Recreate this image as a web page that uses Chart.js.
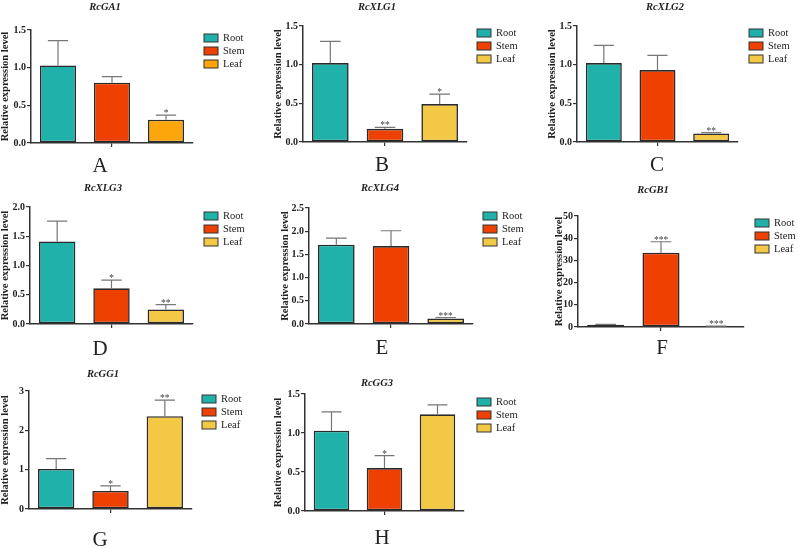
<!DOCTYPE html>
<html>
<head>
<meta charset="utf-8">
<script src="https://cdn.jsdelivr.net/npm/chart.js@4.4.1/dist/chart.umd.min.js"></script>
<style>
  html, body { margin: 0; padding: 0; background: #fff; }
  #wrap { position: relative; width: 798px; height: 548px; overflow: hidden; }
  #wrap canvas { position: absolute; left: 0; top: 0; }
</style>
</head>
<body>
<div id="wrap"></div>
<script>
// data
const tissues = ['Root', 'Stem', 'Leaf'];
const genes = ['RcGA1', 'RcXLG1', 'RcXLG2', 'RcXLG3', 'RcXLG4', 'RcGB1', 'RcGG1', 'RcGG3'];
const letters = ['A', 'B', 'C', 'D', 'E', 'F', 'G', 'H'];

const meanGA1 = [1.03, 0.80, 0.31];   const sdGA1 = [0.33, 0.08, 0.06];  const sigGA1 = ['', '', '*'];
const meanXLG1 = [1.02, 0.17, 0.49];  const sdXLG1 = [0.28, 0.02, 0.13]; const sigXLG1 = ['', '**', '*'];
const meanXLG2 = [1.02, 0.93, 0.11];  const sdXLG2 = [0.23, 0.19, 0.01]; const sigXLG2 = ['', '', '**'];
const meanXLG3 = [1.41, 0.61, 0.25];  const sdXLG3 = [0.35, 0.14, 0.08]; const sigXLG3 = ['', '*', '**'];
const meanXLG4 = [1.71, 1.68, 0.12];  const sdXLG4 = [0.14, 0.33, 0.02]; const sigXLG4 = ['', '', '***'];
const meanGB1 = [1.0, 33.5, 0.3];     const sdGB1 = [0.2, 4.9, 0.05];    const sigGB1 = ['', '***', '***'];
const meanGG1 = [1.02, 0.46, 2.36];   const sdGG1 = [0.26, 0.13, 0.41];  const sigGG1 = ['', '*', '**'];
const meanGG3 = [1.03, 0.55, 1.24];   const sdGG3 = [0.24, 0.16, 0.12];  const sigGG3 = ['', '*', ''];

const means = [meanGA1, meanXLG1, meanXLG2, meanXLG3, meanXLG4, meanGB1, meanGG1, meanGG3];
const sds = [sdGA1, sdXLG1, sdXLG2, sdXLG3, sdXLG4, sdGB1, sdGG1, sdGG3];
const sigs = [sigGA1, sigXLG1, sigXLG2, sigXLG3, sigXLG4, sigGB1, sigGG1, sigGG3];

// y axis ticks
const yMax = [1.5, 1.5, 1.5, 2.0, 2.5, 50, 3, 1.5];
const yStep = [0.5, 0.5, 0.5, 0.5, 0.5, 10, 1, 0.5];
const yDecimals = [1, 1, 1, 1, 1, 0, 0, 1];

// panel placement on the page (pixels)
const layout = [
  { axisX: 31,  top: 30,  bottom: 143, right: 193, yLabelX: 5,   titleX: 105, titleY: 7,   letterX: 100, letterY: 166, legX: 204, legY: 38 },
  { axisX: 303, top: 26,  bottom: 142, right: 467, yLabelX: 278, titleX: 377, titleY: 7,   letterX: 382, letterY: 165, legX: 477, legY: 33 },
  { axisX: 577, top: 26,  bottom: 142, right: 738, yLabelX: 552, titleX: 665, titleY: 7,   letterX: 657, letterY: 165, legX: 749, legY: 33 },
  { axisX: 30,  top: 207, bottom: 324, right: 193, yLabelX: 5,   titleX: 103, titleY: 188, letterX: 100, letterY: 349, legX: 204, legY: 216 },
  { axisX: 309, top: 208, bottom: 324, right: 473, yLabelX: 285, titleX: 380, titleY: 188, letterX: 382, letterY: 348, legX: 483, legY: 216 },
  { axisX: 578, top: 216, bottom: 327, right: 744, yLabelX: 559, titleX: 653, titleY: 190, letterX: 662, letterY: 348, legX: 755, legY: 223 },
  { axisX: 29,  top: 391, bottom: 509, right: 192, yLabelX: 5,   titleX: 103, titleY: 374, letterX: 100, letterY: 540, legX: 202, legY: 399 },
  { axisX: 305, top: 394, bottom: 511, right: 464, yLabelX: 278, titleX: 377, titleY: 383, letterX: 382, letterY: 538, legX: 477, legY: 402 }
];

const tissueColors = ['#20b2aa', '#ee4000', '#f3c845'];
const leafOrangeA = '#fca60c';
const ink = '#222';
const serif = '"Liberation Serif", "Times New Roman", serif';
const yTitleSize = 10.5;
const W = 798, H = 548;

// error bars, asterisks, title, panel letter and legend
const panelDecor = {
  id: 'panelDecor',
  afterDatasetsDraw(chart) {
    const ds = chart.data.datasets[0];
    const meta = chart.getDatasetMeta(0);
    const y = chart.scales.y;
    const ctx = chart.ctx;
    ctx.save();
    meta.data.forEach((bar, k) => {
      const top = y.getPixelForValue(ds.data[k] + ds.errors[k]);
      const half = bar.width * 0.28;
      ctx.strokeStyle = '#777';
      ctx.lineWidth = 1.2;
      ctx.beginPath();
      ctx.moveTo(bar.x, bar.y);
      ctx.lineTo(bar.x, top);
      ctx.moveTo(bar.x - half, top);
      ctx.lineTo(bar.x + half, top);
      ctx.stroke();
      if (ds.sig[k]) {
        ctx.fillStyle = '#444';
        ctx.font = '9.5px ' + serif;
        ctx.textAlign = 'center';
        ctx.textBaseline = 'alphabetic';
        ctx.fillText(ds.sig[k], bar.x, top + 1);
      }
    });
    ctx.restore();
  },
  afterDraw(chart) {
    const o = chart.options.plugins.panelDecor;
    const L = o.pos;
    const ctx = chart.ctx;
    ctx.save();
    ctx.fillStyle = ink;
    ctx.textAlign = 'center';
    ctx.textBaseline = 'middle';
    ctx.font = 'italic bold 10.5px ' + serif;
    ctx.fillText(o.title, L.titleX, L.titleY);
    ctx.font = '21px ' + serif;
    ctx.fillText(o.letter, L.letterX, L.letterY);
    ctx.textAlign = 'left';
    ctx.font = '10.5px ' + serif;
    o.colors.forEach((c, k) => {
      const yy = L.legY + k * 13;
      ctx.fillStyle = c;
      ctx.fillRect(L.legX, yy - 4, 14, 8);
      ctx.strokeStyle = '#333';
      ctx.lineWidth = 1;
      ctx.strokeRect(L.legX, yy - 4, 14, 8);
      ctx.fillStyle = ink;
      ctx.fillText(tissues[k], L.legX + 19, yy + 0.5);
    });
    ctx.restore();
  }
};

const wrap = document.getElementById('wrap');
genes.forEach((gene, i) => {
  const L = layout[i];
  const canvas = document.createElement('canvas');
  canvas.width = W;
  canvas.height = H;
  wrap.appendChild(canvas);

  const colors = i === 0 ? [tissueColors[0], tissueColors[1], leafOrangeA] : tissueColors;
  const yw = L.axisX - (L.yLabelX - yTitleSize * 0.6);

  new Chart(canvas, {
    type: 'bar',
    data: {
      labels: tissues,
      datasets: [{
        data: means[i],
        errors: sds[i],
        sig: sigs[i],
        backgroundColor: colors,
        borderColor: '#2a2a2a',
        borderWidth: 1.6,
        borderSkipped: false,
        categoryPercentage: 1,
        barPercentage: 0.67
      }]
    },
    options: {
      responsive: false,
      animation: false,
      devicePixelRatio: 1,
      layout: { padding: { left: L.axisX - yw, top: L.top, right: W - L.right, bottom: H - L.bottom - 6 } },
      plugins: {
        legend: { display: false },
        tooltip: { enabled: false },
        panelDecor: { pos: L, title: gene, letter: letters[i], colors: colors }
      },
      scales: {
        x: {
          ticks: { display: false },
          grid: {
            offset: false, drawOnChartArea: false, drawTicks: true, tickLength: 4, lineWidth: 1.2,
            color: c => c.index === 1 ? '#333' : 'rgba(0,0,0,0)'
          },
          border: { color: '#333', width: 1.5 },
          afterFit: s => { s.height = 6; }
        },
        y: {
          min: 0,
          max: yMax[i],
          ticks: {
            stepSize: yStep[i], color: ink, padding: 1,
            font: { family: serif, size: 10, weight: 'bold' },
            callback: v => Number(v).toFixed(yDecimals[i])
          },
          grid: { drawOnChartArea: false, tickLength: 4, color: '#333', lineWidth: 1.2 },
          border: { color: '#333', width: 1.5 },
          title: {
            display: true, text: 'Relative expression level', color: ink,
            font: { family: serif, size: yTitleSize, weight: 'bold' },
            padding: { top: 0, bottom: 0 }
          },
          afterFit: s => { s.width = yw; }
        }
      }
    },
    plugins: [panelDecor]
  });
});
</script>
</body>
</html>
